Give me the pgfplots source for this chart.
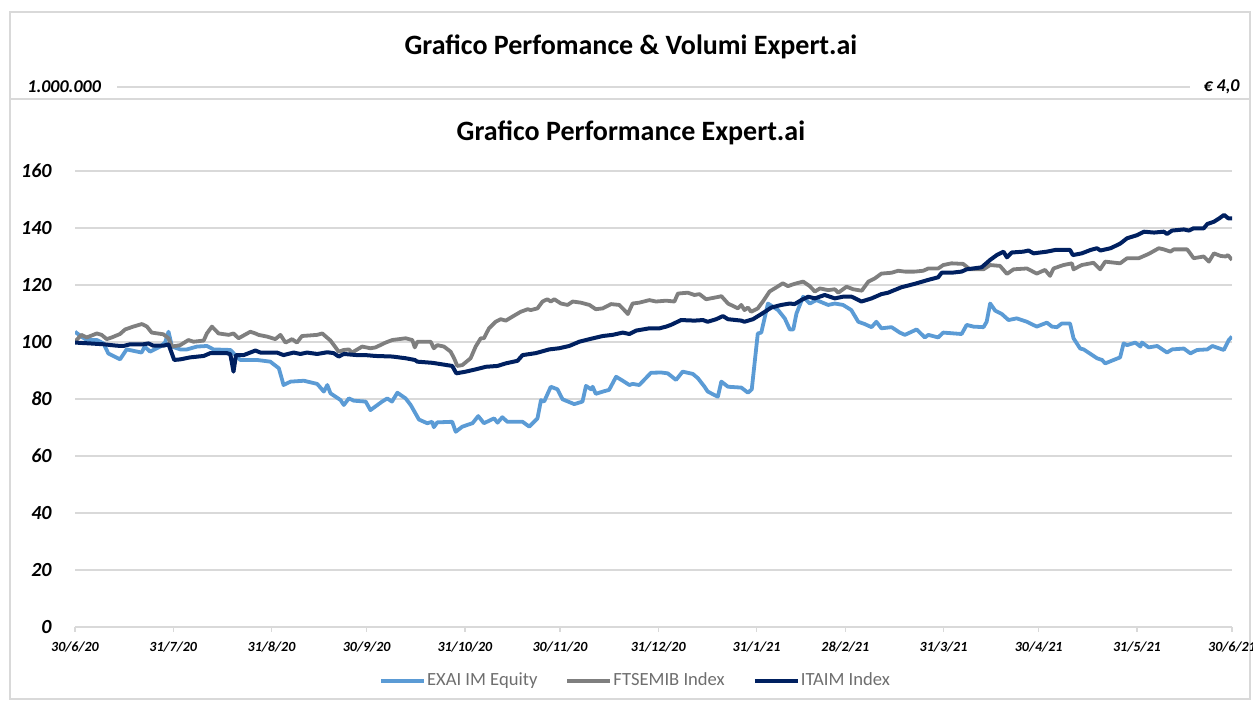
\documentclass[border=0pt]{standalone}
\usepackage{fontspec}
\setmainfont{Carlito}
\usepackage{pgfplots}
\pgfplotsset{compat=1.18}

\definecolor{exai}{HTML}{5B9BD5}
\definecolor{ftse}{HTML}{7F7F7F}
\definecolor{itaim}{HTML}{002060}
\definecolor{gridgray}{HTML}{D9D9D9}
\definecolor{legtext}{HTML}{6E6E6E}

\begin{document}
\begin{tikzpicture}
\useasboundingbox (0,0) rectangle (626.5pt,350.5pt);

% outer frame and header strip
\draw[gridgray, line width=1pt] (5pt,1pt) rectangle (625pt,344.5pt);
\draw[gridgray, line width=1pt] (5pt,301pt) -- (625pt,301pt);
\node[font=\bfseries\fontsize{14}{16}\selectfont] at (315.5pt,327pt) {Grafico Perfomance \& Volumi Expert.ai};
\node[anchor=west, inner sep=0pt, font=\bfseries\itshape\fontsize{9}{10}\selectfont] at (13.5pt,307pt) {1.000.000};
\node[anchor=east, inner sep=0pt, font=\bfseries\itshape\fontsize{9}{10}\selectfont] at (620pt,307pt) {€ 4,0};
\draw[gridgray, line width=0.6pt] (58.5pt,307pt) -- (595pt,307pt);
\node[font=\bfseries\fontsize{14}{16}\selectfont] at (315.5pt,284pt) {Grafico Performance Expert.ai};

\begin{axis}[
  at={(37.5pt,37pt)}, anchor=south west,
  scale only axis, width=578.5pt, height=228pt,
  xmin=0, xmax=365, ymin=0, ymax=160,
  xtick={0,31,62,92,123,153,184,215,243,274,304,335,365},
  xticklabels={30/6/20,31/7/20,31/8/20,30/9/20,31/10/20,30/11/20,31/12/20,31/1/21,28/2/21,31/3/21,30/4/21,31/5/21,30/6/21},
  ytick={0,20,...,160},
  /pgf/number format/assume math mode=true,
  axis x line*=bottom, axis y line*=left,
  x axis line style={draw=gridgray, line width=0.7pt, -},
  y axis line style={draw=none},
  tick align=outside, major tick length=2.5pt,
  xtick style={draw=gridgray, line width=0.7pt},
  ytick style={draw=none},
  ymajorgrids, major grid style={draw=gridgray, line width=0.7pt},
  xticklabel style={font=\bfseries\itshape\fontsize{7}{8}\selectfont, inner sep=0pt, anchor=north, yshift=-4.5pt},
  yticklabel style={font=\bfseries\itshape\fontsize{10}{11}\selectfont, inner sep=0pt, anchor=east, xshift=-9pt},
  legend columns=3,
  legend style={at={(0.484,-0.118)}, anchor=center, draw=none, fill=none,
    font=\fontsize{9.3}{11}\selectfont, text=legtext,
    /tikz/every even column/.append style={column sep=13.5pt},
    nodes={inner sep=0.5pt}},
  legend image code/.code={\draw[#1, line width=2pt] (0pt,0pt) -- (21.5pt,0pt);},
  line join=round,
]
\addplot[exai, line width=1.9pt] coordinates {
(0,103.6)(2,101.9)(3.7,100.7)(6.9,100.7)(9,99.5)(10.5,96)(14.2,93.9)(16.3,97.4)
(21,96.3)(22,98.4)(23.7,96.6)(26.9,98.4)(28.4,99.8)(29.5,103.6)(30.6,98.4)(33.2,97.4)
(35.3,97.4)(38.5,98.4)(41.6,98.6)(43.7,97.4)(49,97.2)(50.6,95.4)(52.1,93.7)(57.4,93.7)
(61.6,93.1)(64.3,90.8)(65.8,84.9)(68,86.1)(72.2,86.4)(76.4,85.3)(78.5,82.6)(79.6,84.9)
(80.6,82)(83.8,79.6)(84.8,77.9)(86.4,80.2)(88,79.4)(91.7,79.1)(93.2,76.1)(96.9,79.1)
(98.5,80.2)(100,79.1)(101.7,82.2)(104.3,80.2)(105.9,77.9)(108.5,72.8)(111.1,71.5)(112.7,72)
(113.2,70.1)(114.3,71.8)(119,72)(120.1,68.5)(122.2,70.3)(125.4,71.5)(127.2,74)(129,71.5)
(132.2,73.2)(133.3,71.7)(134.8,73.6)(136.4,72)(141.2,72)(143.3,70.3)(145.9,73.2)(147,79.6)
(148,79.1)(150.1,84.3)(152.2,83.4)(153.8,79.9)(157.5,78.2)(160.1,79.1)(161.2,84.6)(162.8,83.4)
(163.3,84.3)(164.3,81.8)(166.5,82.6)(168.5,83.2)(170.7,87.8)(172.8,86.4)(174.9,84.9)(175.9,85.3)
(178,84.9)(181.7,89.2)(184.9,89.3)(187,89)(189.6,86.7)(191.7,89.6)(194.9,88.8)(196.5,87.3)
(198.6,84.3)(199.6,82.6)(202.8,80.8)(203.9,86.1)(206,84.3)(210.2,84)(212.3,82.2)(213.5,83.4)
(215.4,103)(216.5,103.3)(218.6,113.5)(221.8,111.2)(223.9,108.3)(225.5,104.4)(226.6,104.4)(227.6,110)
(229.7,115.9)(231.8,113.5)(233.9,114.7)(237.6,113)(239.7,113.5)(242.3,113)(244.9,111.2)(247.1,107.1)
(249.1,106.3)(251.3,105.2)(252.8,107.1)(254.4,104.8)(257.6,105.2)(260.2,103.3)(261.8,102.5)(265.5,104.4)
(268.1,101.6)(269.2,102.5)(272.3,101.6)(273.9,103.3)(279.7,102.8)(281.3,106)(283.4,105.4)(286.6,105.2)
(287.6,107.1)(288.7,113.5)(290.3,111)(292.4,109.8)(294.5,107.7)(297.1,108.3)(300.3,107.1)(303.4,105.4)
(306.6,106.8)(308.2,105.4)(309.8,105.2)(311.3,106.5)(313.9,106.5)(315,101.3)(317.1,97.7)(318.2,97.4)
(322.4,94.3)(324,93.7)(325,92.5)(329.7,94.6)(330.8,99.5)(331.9,98.9)(334.5,99.8)(336.1,98.4)
(336.6,99.8)(338.7,98.1)(341.4,98.6)(344.5,96.3)(346.1,97.4)(349.8,97.7)(351.9,96)(354,97.2)
(357.2,97.4)(358.8,98.6)(362.4,97.2)(364,100.7)(365,101.9)
};
\addlegendentry{EXAI IM Equity}
\addplot[ftse, line width=1.9pt] coordinates {
(0,100.1)(2,102.5)(3.7,101.6)(6.9,103)(8.4,102.5)(10,101)(11.6,101.6)(14.2,102.8)
(15.8,104.4)(18.4,105.4)(21.1,106.3)(22.7,105.4)(24.2,103.3)(27.9,102.7)(29.5,101.3)(30.6,98.4)
(33.2,98.9)(35.8,100.7)(37.4,100.1)(40.6,100.5)(41.6,103)(43.2,105.4)(45.3,103)(48.5,102.5)
(50,103)(51.6,101.3)(55.3,103.6)(56.9,103)(57.9,102.5)(60.6,101.9)(63.2,101)(64.8,102.5)
(66.4,99.8)(68.5,101)(70,99.8)(71.6,102.1)(76.4,102.5)(78,103)(80.6,100.5)(83.2,96.6)
(84.8,97.2)(86.4,97.4)(87.4,96.3)(90.6,98.4)(93.2,97.8)(94.8,98.1)(98,99.8)(100.1,100.7)
(104.3,101.3)(106.4,100.7)(107.2,98.1)(108,100.1)(112.2,100.1)(113.2,97.8)(114.3,98.9)(116.4,98.4)
(118.5,96.6)(119.6,94.3)(120.6,91.6)(122.2,91.9)(124.8,94.3)(126.4,98.4)(128,101.3)(129,101.3)
(130.6,104.8)(132.7,107.1)(134.3,108)(135.9,107.5)(138,108.9)(140.6,110.6)(142.8,111.5)(143.8,111.2)
(145.9,111.8)(147.5,114.2)(149,115)(150.1,114.2)(151.2,115)(153.3,113.5)(155.4,113)(157,114.2)
(159.6,113.8)(162.3,113)(164.3,111.5)(166.5,111.8)(169.1,113.3)(171.7,113)(173.8,110.6)(174.4,109.8)
(175.9,113.5)(178,113.8)(181.2,114.7)(183.3,114.2)(186.5,114.5)(189.1,114.2)(190.2,117)(193.3,117.3)
(195.4,116.5)(197,116.8)(199.1,115)(203.3,115.9)(203.9,116.1)(206,113.5)(209.1,111.8)(210.2,113)
(211.2,111.2)(212.3,112.1)(213.3,110.6)(215.4,111.8)(217,114.2)(219.1,117.7)(221.3,119.2)(223.3,120.6)
(224.9,119.6)(227,120.4)(229.7,121.2)(231.8,119.6)(233.4,117.7)(235,118.8)(237.6,118.2)(239.7,118.5)
(240.8,117.3)(243.4,119.4)(245.5,118.5)(248.2,118)(250.3,121.2)(252.3,122.3)(254.4,124)(257.6,124.3)
(259.7,125)(261.8,124.7)(264.9,124.7)(267.6,125)(269.2,125.8)(272.3,125.8)(273.9,127)(276.5,127.6)
(280.2,127.4)(282.3,125.5)(286.6,125.5)(288.7,127)(291.8,126.7)(294,123.9)(296.1,125.5)(300.3,125.8)
(303.4,124)(306,125.3)(307.6,123.2)(308.7,125.8)(311.8,127)(314.5,127.6)(315,125.5)(317.6,127)
(321.3,127.8)(323.4,125.5)(325,128.2)(329.7,127.6)(331.9,129.4)(335.6,129.4)(338.7,130.9)(341.9,132.9)
(343.5,132.5)(345.6,131.7)(346.6,132.5)(350.8,132.5)(351.4,131.7)(352.9,129.4)(356.1,130)(357.7,128.2)
(359.3,131.1)(361.4,130.2)(363,130)(363.7,130.5)(365,128.8)
};
\addlegendentry{FTSEMIB Index}
\addplot[itaim, line width=2pt] coordinates {
(0,99.8)(4.7,99.5)(9,99.2)(13.2,98.7)(15.3,98.6)(17.4,99.2)(21.6,99.2)(23.2,99.5)
(24.7,98.7)(27.9,98.7)(29.5,99.2)(31.3,93.7)(33.2,93.9)(36.3,94.6)(40.6,95.1)(42.7,96.1)
(47.9,96.1)(49,95.7)(50,89.6)(50.8,95.4)(53.2,95.4)(56.9,97)(58.5,96.3)(63.7,96.3)
(65.8,95.4)(69,96.3)(71.1,95.8)(73.2,96.3)(76.4,95.8)(79.6,96.4)(81.6,96.1)(83.2,94.9)
(84.8,95.8)(89,95.4)(91.7,95.4)(94.8,95.1)(100.1,94.9)(104.3,94.3)(107.2,93.7)(108,93.1)
(112.7,92.7)(119,91.6)(120.3,89)(123.3,89.6)(126.4,90.4)(129.6,91.3)(133.3,91.6)(135.9,92.5)
(139.6,93.4)(141.2,95.4)(145.4,96.1)(149.6,97.4)(152.7,97.8)(155.9,98.6)(159.1,100.1)(162.3,101)
(166.5,102.1)(169.6,102.5)(172.8,103.3)(174.9,102.8)(177,104)(181.2,104.8)(184.4,104.8)(186.5,105.4)
(188,106)(191.2,107.7)(195.4,107.5)(198.1,107.7)(199.6,107.1)(202.3,108)(204.4,109.1)(206,108)
(210.2,107.5)(211.2,107.1)(213.9,108)(216.5,109.8)(219.7,112.1)(222.8,113)(225.5,113.5)(227,113.3)
(229.1,114.7)(231.3,115.9)(233.4,115.3)(236.5,116.5)(239.7,115.3)(242.3,115.9)(245,115.9)(248.1,114.2)
(251.3,115.3)(254.4,116.8)(256.5,117.3)(260.7,119.2)(264.9,120.4)(269.2,121.8)(272.3,122.7)(273.4,124.3)
(276.5,124.3)(279.7,124.7)(281.3,125.5)(286,126.2)(288.7,128.8)(290.8,130.5)(292.9,131.7)(294,129.7)
(295.5,131.4)(299.2,131.7)(300.8,132.1)(302.4,131.1)(306.6,131.7)(309.3,132.3)(313.9,132.3)(314.8,130.5)
(317.6,131.1)(320.4,132.3)(322.4,132.9)(323.5,132.1)(326.7,132.9)(329.7,134.5)(331.9,136.4)(335.1,137.5)
(337.2,138.7)(340.4,138.4)(343.5,138.7)(344.5,137.9)(346.1,139.1)(349.8,139.5)(351.4,139.1)(352.9,139.9)
(356.1,139.9)(357.2,141.4)(359.3,142.2)(361,143.4)(362.5,144.6)(363.8,143.4)(365,143.4)
};
\addlegendentry{ITAIM Index}
\end{axis}
\end{tikzpicture}
\end{document}
